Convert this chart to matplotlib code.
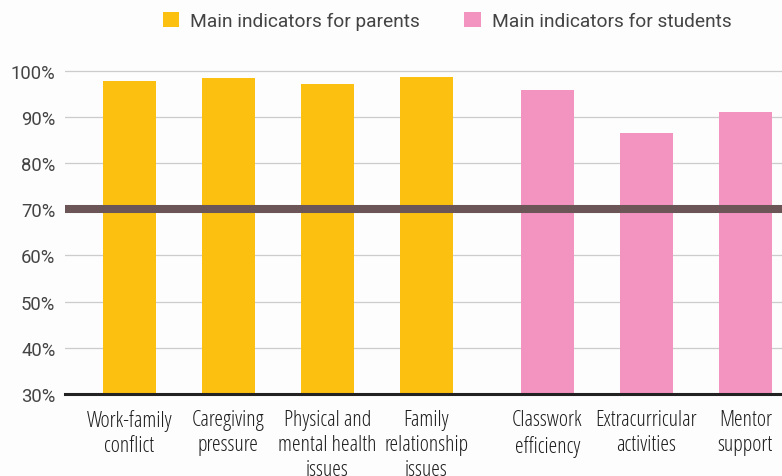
import matplotlib
matplotlib.use("Agg")
import matplotlib.pyplot as plt
from matplotlib.patches import Patch
from matplotlib.font_manager import FontProperties

# Data
categories = ["Work-family\nconflict", "Caregiving\npressure", "Physical and\nmental health\nissues",
              "Family\nrelationship\nissues", "Classwork\nefficiency", "Extracurricular\nactivities",
              "Mentor\nsupport"]
values = [97.8, 98.3, 97.0, 98.7, 95.9, 86.4, 91.1]
groups = ["parents", "parents", "parents", "parents", "students", "students", "students"]
positions = [0, 1, 2, 3, 4.22, 5.22, 6.22]
threshold = 70
yticks = [30, 40, 50, 60, 70, 80, 90, 100]

colors = {"parents": "#FCC010", "students": "#F393BF"}
legend_labels = {"parents": "Main indicators for parents", "students": "Main indicators for students"}

fig = plt.figure(figsize=(7.82, 4.77), dpi=100, facecolor="#FDFDFD")
ax = fig.add_axes([0.0831, 0.1719, 0.9169, 0.6828])
ax.set_facecolor("#FDFDFD")

ax.bar(positions, values, width=0.535, color=[colors[g] for g in groups], zorder=2)
ax.axhline(threshold, color="#6B5556", linewidth=5.8, zorder=3)

ax.set_ylim(30, 100.5)
ax.set_xlim(-0.65, 6.59)
ax.set_yticks(yticks)
ax.set_yticklabels([f"{t}%" for t in yticks], fontfamily="Roboto", fontsize=13.3, color="#444444")
ax.yaxis.grid(True, color="#CCCCCC", linewidth=0.9, zorder=0)
ax.set_axisbelow(True)
ax.tick_params(axis="y", length=0, pad=7)

# condensed face for the category labels
narrow = FontProperties(family="Open Sans", stretch="condensed", weight=400, size=15.8)
ax.set_xticks(positions)
ax.set_xticklabels(categories, fontproperties=narrow, color="#1E1E1E", linespacing=1.25)
ax.tick_params(axis="x", length=0, pad=11)

for side in ["top", "right", "left"]:
    ax.spines[side].set_visible(False)
ax.spines["bottom"].set_color("#222222")
ax.spines["bottom"].set_linewidth(2.2)
ax.spines["bottom"].set_zorder(4)

handles = [Patch(facecolor=colors[g], label=legend_labels[g]) for g in ["parents", "students"]]
fig.legend(handles=handles, loc="center", bbox_to_anchor=(0.572, 0.954), ncol=2, frameon=False,
           prop={"family": "Roboto", "size": 13.8}, labelcolor="#444444",
           handlelength=0.85, handleheight=0.85, handletextpad=0.6, columnspacing=2.3)

fig.savefig("out.png", dpi=100, facecolor=fig.get_facecolor())
